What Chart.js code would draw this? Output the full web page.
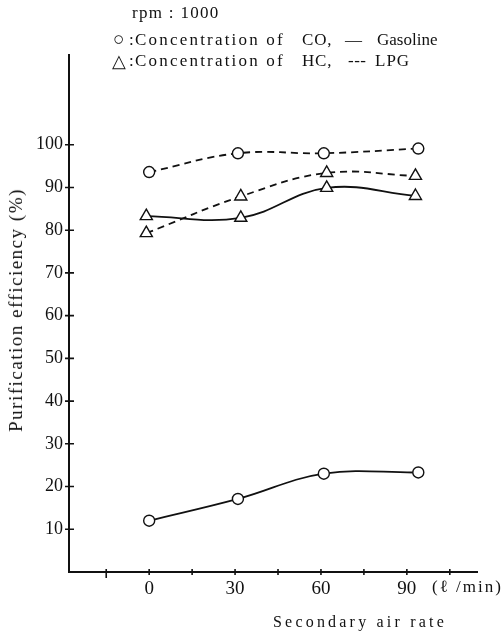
<!DOCTYPE html>
<html>
<head>
<meta charset="utf-8">
<script src="https://cdn.jsdelivr.net/npm/chart.js@4/dist/chart.umd.min.js"></script>
<style>
  body { margin: 0; background: #fff; }
  #wrap { position: relative; width: 502px; height: 640px; overflow: hidden; }
  .txt { position: absolute; white-space: pre; color: #111; font-family: "Liberation Serif", serif; font-size: 17px; line-height: 20px; }
  .ylab { position: absolute; left: 16px; top: 310px; transform: translate(-50%, -50%) rotate(-90deg);
          white-space: pre; color: #111; font-family: "Liberation Serif", serif; font-size: 19px; letter-spacing: 1.5px; }
</style>
</head>
<body>
<div id="wrap">
  <canvas id="chartCanvas" width="502" height="640"></canvas>
  <div class="txt" style="left:132px; top:3px; letter-spacing:1.3px;">rpm : 1000</div>

  <div class="txt" style="left:113px; top:29px; font-size:19px;">○</div>
  <div class="txt" style="left:129px; top:30px;">:</div>
  <div class="txt" style="left:135px; top:30px; letter-spacing:2.2px;">Concentration of</div>
  <div class="txt" style="left:302px; top:30px; letter-spacing:0.8px;">CO,</div>
  <div class="txt" style="left:345px; top:30px;">—</div>
  <div class="txt" style="left:377px; top:30px;">Gasoline</div>

  <div class="txt" style="left:112px; top:51px; font-size:18px;">△</div>
  <div class="txt" style="left:129px; top:51px;">:</div>
  <div class="txt" style="left:135px; top:51px; letter-spacing:2.2px;">Concentration of</div>
  <div class="txt" style="left:302px; top:51px; letter-spacing:0.8px;">HC,</div>
  <div class="txt" style="left:348px; top:51px; letter-spacing:0.5px;">---</div>
  <div class="txt" style="left:375px; top:51px; letter-spacing:1px;">LPG</div>

  <div class="txt" style="left:432px; top:577px; letter-spacing:2px;">(ℓ /min)</div>
  <div class="txt" style="left:273px; top:612px; font-size:16px; letter-spacing:3.2px;">Secondary air rate</div>
  <div class="ylab">Purification efficiency (%)</div>
</div>
<script>
// --- Data ---

const coX = [0, 31, 61, 94];
const hcX = [-1, 32, 62, 93];
const coGasoline = [12, 17.1, 23, 23.3];
const coLpg = [93.6, 98, 98, 99.1];
const hcGasoline = [83.3, 82.9, 89.9, 88];
const hcLpg = [79.3, 87.9, 93.4, 92.7];

const xTicks = [-15, 0, 15, 30, 45, 60, 75, 90, 105];
const xLabels = [0, 30, 60, 90];
const yTicks = [10, 20, 30, 40, 50, 60, 70, 80, 90, 100];

const canvas = document.getElementById('chartCanvas');

function pairs(xs, ys) {
    return xs.map((x, i) => ({ x, y: ys[i] }));
}

function series(label, xs, ys, shape, dashed) {
    return {
        label,
        data: pairs(xs, ys),
        borderColor: '#111',
        borderWidth: 1.8,
        borderDash: dashed ? [7, 5] : [],
        tension: 0.4,
        pointStyle: shape,
        pointRadius: shape === 'circle' ? 5.5 : 7,
        pointBorderWidth: 1.4,
        pointBackgroundColor: '#fff',
        pointBorderColor: '#111'
    };
}

// Ticks that cross the axis lines, like the printed figure
const crossTicks = {
    id: 'crossTicks',
    afterDraw(chart) {
        const ctx = chart.ctx;
        const x = chart.scales.x;
        const y = chart.scales.y;
        const area = chart.chartArea;
        ctx.save();
        ctx.strokeStyle = '#111';
        ctx.lineWidth = 1.6;
        ctx.beginPath();
        yTicks.forEach(v => {
            const py = y.getPixelForValue(v);
            ctx.moveTo(area.left - 4, py);
            ctx.lineTo(area.left + 5, py);
        });
        xTicks.forEach(v => {
            const px = x.getPixelForValue(v);
            const len = v < 0 ? 6 : 3;
            ctx.moveTo(px, area.bottom - 3);
            ctx.lineTo(px, area.bottom + len);
        });
        ctx.stroke();
        ctx.restore();
    }
};

const chart = new Chart(canvas, {
    type: 'line',
    data: {
        datasets: [
            series('CO Gasoline', coX, coGasoline, 'circle', false),
            series('CO LPG', coX, coLpg, 'circle', true),
            series('HC Gasoline', hcX, hcGasoline, 'triangle', false),
            series('HC LPG', hcX, hcLpg, 'triangle', true)
        ]
    },
    options: {
        responsive: false,
        animation: false,
        layout: { padding: { top: 55, right: 25, left: 0, bottom: 0 } },
        plugins: {
            legend: { display: false },
            title: { display: false },
            tooltip: { enabled: false }
        },
        scales: {
            x: {
                type: 'linear',
                min: -28,
                max: 114.5,
                afterFit: s => { s.height = 68; },
                afterBuildTicks: s => { s.ticks = xTicks.map(v => ({ value: v })); },
                grid: { display: false, drawTicks: false },
                border: { color: '#111', width: 2 },
                ticks: {
                    autoSkip: false,
                    maxRotation: 0,
                    padding: 6,
                    color: '#111',
                    font: { family: 'Liberation Serif', size: 19 },
                    callback: v => xLabels.includes(v) ? String(v) : ''
                }
            },
            y: {
                type: 'linear',
                min: 0,
                max: 121,
                afterFit: s => { s.width = 69; },
                afterBuildTicks: s => { s.ticks = yTicks.map(v => ({ value: v })); },
                grid: { display: false, drawTicks: false },
                border: { color: '#111', width: 2 },
                ticks: {
                    autoSkip: false,
                    padding: 6,
                    color: '#111',
                    font: { family: 'Liberation Serif', size: 18 }
                }
            }
        }
    },
    plugins: [crossTicks]
});
</script>
</body>
</html>
